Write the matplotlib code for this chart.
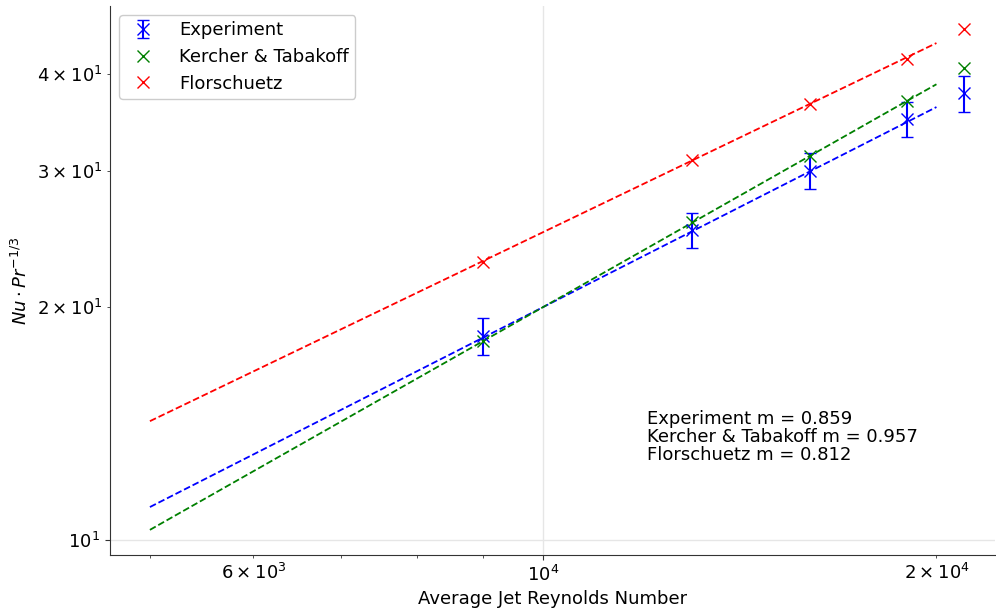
import matplotlib
matplotlib.use('Agg')
import matplotlib.pyplot as plt
import numpy as np

# average jet Reynolds numbers of the test points
reynolds = [9000, 13000, 16000, 19000, 21000]

# Nu * Pr^(-1/3) values
experiment = [18.35, 25.15, 30.0, 35.0, 37.8]
experiment_err = [1.0, 1.33, 1.6, 1.85, 2.0]
kercher_tabakoff = [18.08, 25.8, 31.4, 36.9, 40.8]
florschuetz = [22.9, 30.95, 36.6, 41.9, 45.7]

# power law fits: y = a * (Re / 1e4) ** m
fit_names = ['Experiment', 'Kercher & Tabakoff', 'Florschuetz']
fit_slopes = [0.859, 0.957, 0.812]
fit_at_1e4 = [20.0, 20.0, 25.0]
fit_range = [5000, 20000]
colors = ['blue', 'green', 'red']

plt.rcParams['font.family'] = ['DejaVu Sans']
plt.rcParams['font.size'] = 13

fig = plt.figure(figsize=(9.96, 6.08), dpi=100)
ax = fig.add_axes([0.1104, 0.0872, 0.889, 0.9028])

h_exp = ax.errorbar(reynolds, experiment, yerr=experiment_err, fmt='x', color=colors[0],
                    markersize=8, capsize=4, label='Experiment')
h_kt, = ax.plot(reynolds, kercher_tabakoff, 'x', color=colors[1], markersize=8,
                label='Kercher & Tabakoff')
h_fl, = ax.plot(reynolds, florschuetz, 'x', color=colors[2], markersize=8,
                label='Florschuetz')

re_line = np.geomspace(fit_range[0], fit_range[1], 50)
for m, a, c in zip(fit_slopes, fit_at_1e4, colors):
    ax.plot(re_line, a * (re_line / 1e4) ** m, '--', color=c, linewidth=1.3)

ax.set_xscale('log')
ax.set_yscale('log')
ax.set_xlim(4660, 22190)
ax.set_ylim(9.56, 49.0)

ax.grid(True, which='major', color='#e6e6e6', linewidth=1)
ax.set_axisbelow(True)
for side in ['top', 'right']:
    ax.spines[side].set_visible(False)
for side in ['left', 'bottom']:
    ax.spines[side].set_color('#333333')
ax.tick_params(which='both', colors='#333333', labelcolor='black', labelsize=13)

ax.set_xlabel('Average Jet Reynolds Number', fontsize=13)
ax.set_ylabel(r'$Nu \cdot Pr^{-1/3}$', fontsize=13)

text = '\n'.join(f'{n} m = {m:.3f}' for n, m in zip(fit_names, fit_slopes))
ax.text(0.607, 0.264, text, transform=ax.transAxes, fontsize=13, va='top',
        linespacing=1.0)

ax.legend(handles=[h_exp, h_kt, h_fl], loc='upper left', fontsize=13,
          framealpha=1, labelspacing=0.48, borderpad=0.35, handletextpad=1.0)

fig.savefig('out.png', dpi=100)
